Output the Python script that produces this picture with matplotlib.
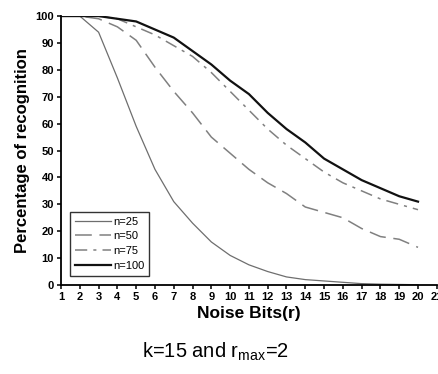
import matplotlib
matplotlib.use("Agg")
import matplotlib.pyplot as plt

plt.rcParams['font.family'] = ['Liberation Sans', 'DejaVu Sans']
plt.rcParams['mathtext.fontset'] = 'custom'
plt.rcParams['mathtext.rm'] = 'Liberation Sans'
plt.rcParams['mathtext.it'] = 'Liberation Sans'

noise_bits = list(range(1, 21))
n25 = [100, 100, 94, 77, 59, 43, 31, 23, 16, 11, 7.5, 5, 3, 2, 1.5, 1, 0.5, 0.3, 0.2, 0.1]
n50 = [100, 100, 99, 96, 91, 81, 72, 64, 55, 49, 43, 38, 34, 29, 27, 25, 21, 18, 17, 14]
n75 = [100, 100, 100, 99, 96, 93, 89, 85, 79, 72, 65, 58, 52, 47, 42, 38, 35, 32, 30, 28]
n100 = [100, 100, 100, 99, 98, 95, 92, 87, 82, 76, 71, 64, 58, 53, 47, 43, 39, 36, 33, 31]
labels = ["n=25", "n=50", "n=75", "n=100"]
x_ticks = list(range(1, 22))
y_ticks = list(range(0, 101, 10))

fig = plt.figure(figsize=(4.39, 3.74), dpi=100)
ax = fig.add_axes([0.139, 0.238, 0.856, 0.719])

ax.plot(noise_bits, n25, color='#6e6e6e', lw=0.9, label=labels[0])
ax.plot(noise_bits, n50, color='#808080', lw=1.1, dashes=(11, 5), label=labels[1])
ax.plot(noise_bits, n75, color='#808080', lw=1.1, dashes=(8, 4, 2, 4), label=labels[2])
ax.plot(noise_bits, n100, color='#111111', lw=1.6, label=labels[3])

ax.set_xlim(1, 21)
ax.set_ylim(0, 100)
ax.set_xticks(x_ticks)
ax.set_yticks(y_ticks)
for s in ['top', 'right']:
    ax.spines[s].set_visible(False)
for s in ['left', 'bottom']:
    ax.spines[s].set_linewidth(1.3)
ax.tick_params(direction='out', length=3, width=1.1, labelsize=8, pad=2)
for t in ax.get_xticklabels() + ax.get_yticklabels():
    t.set_fontweight('bold')

ax.set_xlabel('Noise Bits(r)', fontsize=12.5, fontweight='bold', labelpad=3)
ax.set_ylabel('Percentage of recognition', fontsize=12, fontweight='bold', labelpad=4)

leg = ax.legend(loc='lower left', bbox_to_anchor=(0.024, 0.035), fontsize=8,
                frameon=True, fancybox=False, handlelength=3.2, handletextpad=0.2,
                labelspacing=0.42, borderpad=0.45, borderaxespad=0)
leg.get_frame().set_edgecolor('black')
leg.get_frame().set_linewidth(1.0)

fig.text(0.49, 0.059, r'k=15 and r$_{\mathrm{max}}$=2', ha='center', va='center', fontsize=14.5)

fig.savefig('out.png', dpi=100)
